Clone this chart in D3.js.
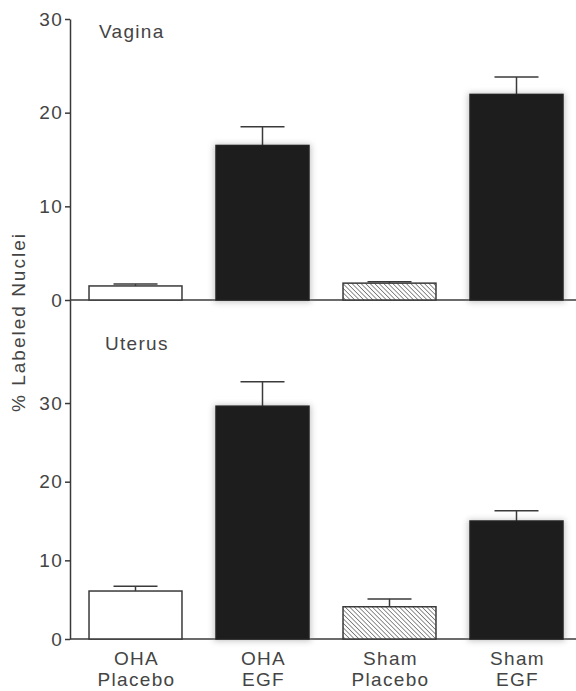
<!DOCTYPE html>
<html>
<head>
<meta charset="utf-8">
<script src="https://cdn.jsdelivr.net/npm/d3@7"></script>
<style>
  body { margin: 0; background: #fff; }
  svg { display: block; }
  text { font-family: "Liberation Sans", Arial, sans-serif; font-size: 19px; fill: #444; letter-spacing: 1.3px; }
  .axis text { font-size: 19px; fill: #444; }
  .axis path, .axis line { stroke: #3a3a3a; stroke-width: 1.5; }
</style>
</head>
<body>
<div id="chart"></div>
<script>
// categories (two lines each)
var groups = ["OHA Placebo", "OHA EGF", "Sham Placebo", "Sham EGF"];
var groupLine1 = ["OHA", "OHA", "Sham", "Sham"];
var groupLine2 = ["Placebo", "EGF", "Placebo", "EGF"];
var barKind = ["open", "solid", "hatch", "solid"];

// % labeled nuclei, mean and SEM
var vaginaMean = [1.5, 16.5, 1.8, 21.95];
var vaginaSem = [0.2, 2.0, 0.15, 1.85];
var uterusMean = [6.1, 29.6, 4.1, 15.0];
var uterusSem = [0.6, 3.1, 1.0, 1.3];

var yTicks = [0, 10, 20, 30];

var W = 576, H = 691;
var svg = d3.select("#chart").append("svg")
	.attr("width", W)
	.attr("height", H);

var defs = svg.append("defs");
var pat = defs.append("pattern")
	.attr("id", "hatch")
	.attr("patternUnits", "userSpaceOnUse")
	.attr("width", 3.2)
	.attr("height", 3.2)
	.attr("patternTransform", "rotate(-45)");
pat.append("rect").attr("width", 3.2).attr("height", 3.2).attr("fill", "#fff");
pat.append("line")
	.attr("x1", 0).attr("y1", 0).attr("x2", 0).attr("y2", 3.2)
	.attr("stroke", "#555").attr("stroke-width", 1.3);

defs.append("filter").attr("id", "blur")
	.attr("x", "-20%").attr("y", "-20%").attr("width", "140%").attr("height", "140%")
	.append("feGaussianBlur").attr("stdDeviation", 3);

var axisX = 70;
var xScale = d3.scaleBand().domain(groups)
	.range([72, 580])
	.paddingInner(0.268)
	.paddingOuter(0.134);

// one panel: data, y scale, title
function drawPanel(means, sems, yScale, title, titleX, titleY) {
	var g = svg.append("g");

	// baseline across panel
	g.append("line")
		.attr("x1", axisX).attr("x2", W)
		.attr("y1", yScale(0)).attr("y2", yScale(0))
		.attr("stroke", "#3a3a3a").attr("stroke-width", 1.5);

	var yAxis = d3.axisLeft(yScale)
		.tickValues(yTicks)
		.tickSizeInner(5)
		.tickSizeOuter(0)
		.tickPadding(2);

	g.append("g")
		.attr("class", "axis")
		.attr("transform", "translate(" + axisX + ",0)")
		.call(yAxis)
		.call(function(a){ a.selectAll("text").attr("font-family", null).attr("font-size", null); });

	var kinds = barKind;
	var rows = groups.map(function(d, i) { return {g: d, m: means[i], s: sems[i], k: kinds[i]}; });

	// soft halo behind dark bars
	g.selectAll("rect.halo")
		.data(rows.filter(function(d){ return d.k == "solid"; }))
		.enter()
		.append("rect")
		.attr("class", "halo")
		.attr("x", function(d){ return xScale(d.g) - 2; })
		.attr("y", function(d){ return yScale(d.m) - 1; })
		.attr("width", xScale.bandwidth() + 4)
		.attr("height", function(d){ return yScale(0) - yScale(d.m) + 3; })
		.attr("fill", "#888")
		.attr("opacity", 0.5)
		.attr("filter", "url(#blur)");

	// error bars (upper only)
	g.selectAll("line.err")
		.data(rows)
		.enter()
		.append("line")
		.attr("class", "err")
		.attr("x1", function(d){ return xScale(d.g) + xScale.bandwidth() / 2; })
		.attr("x2", function(d){ return xScale(d.g) + xScale.bandwidth() / 2; })
		.attr("y1", function(d){ return yScale(d.m); })
		.attr("y2", function(d){ return yScale(d.m + d.s); })
		.attr("stroke", "#3a3a3a").attr("stroke-width", 1.5);

	g.selectAll("line.cap")
		.data(rows)
		.enter()
		.append("line")
		.attr("class", "cap")
		.attr("x1", function(d){ return xScale(d.g) + xScale.bandwidth() / 2 - 22; })
		.attr("x2", function(d){ return xScale(d.g) + xScale.bandwidth() / 2 + 22; })
		.attr("y1", function(d){ return yScale(d.m + d.s); })
		.attr("y2", function(d){ return yScale(d.m + d.s); })
		.attr("stroke", "#3a3a3a").attr("stroke-width", 1.5);

	g.selectAll("rect.bar")
		.data(rows)
		.enter()
		.append("rect")
		.attr("class", "bar")
		.attr("x", function(d){ return xScale(d.g); })
		.attr("y", function(d){ return yScale(d.m); })
		.attr("width", xScale.bandwidth())
		.attr("height", function(d){ return yScale(0) - yScale(d.m); })
		.attr("fill", function(d){
			if (d.k == "solid") return "#1d1d1d";
			if (d.k == "hatch") return "url(#hatch)";
			return "#fff";
		})
		.attr("stroke", function(d){ return d.k == "solid" ? "#222" : "#3a3a3a"; })
		.attr("stroke-width", 1.5);

	g.append("text")
		.attr("x", titleX)
		.attr("y", titleY)
		.text(title);
}

var yTop = d3.scaleLinear().domain([0, 30]).range([300, 19]);
var yBottom = d3.scaleLinear().domain([0, 43.1]).range([639, 300]);

drawPanel(vaginaMean, vaginaSem, yTop, "Vagina", 99, 38);
drawPanel(uterusMean, uterusSem, yBottom, "Uterus", 105, 350);

// category labels
var lab = svg.append("g")
	.attr("text-anchor", "middle");

lab.selectAll("text.l1")
	.data(groups)
	.enter()
	.append("text")
	.attr("x", function(d){ return xScale(d) + xScale.bandwidth() / 2 + 1; })
	.attr("y", 665)
	.text(function(d, i){ return groupLine1[i]; });

lab.selectAll("text.l2")
	.data(groups)
	.enter()
	.append("text")
	.attr("x", function(d){ return xScale(d) + xScale.bandwidth() / 2 + 1; })
	.attr("y", 686)
	.text(function(d, i){ return groupLine2[i]; });

// y axis title
svg.append("text")
	.attr("transform", "translate(25,322) rotate(-90)")
	.attr("text-anchor", "middle")
	.style("letter-spacing", "2px")
	.text("% Labeled Nuclei");
</script>
</body>
</html>
